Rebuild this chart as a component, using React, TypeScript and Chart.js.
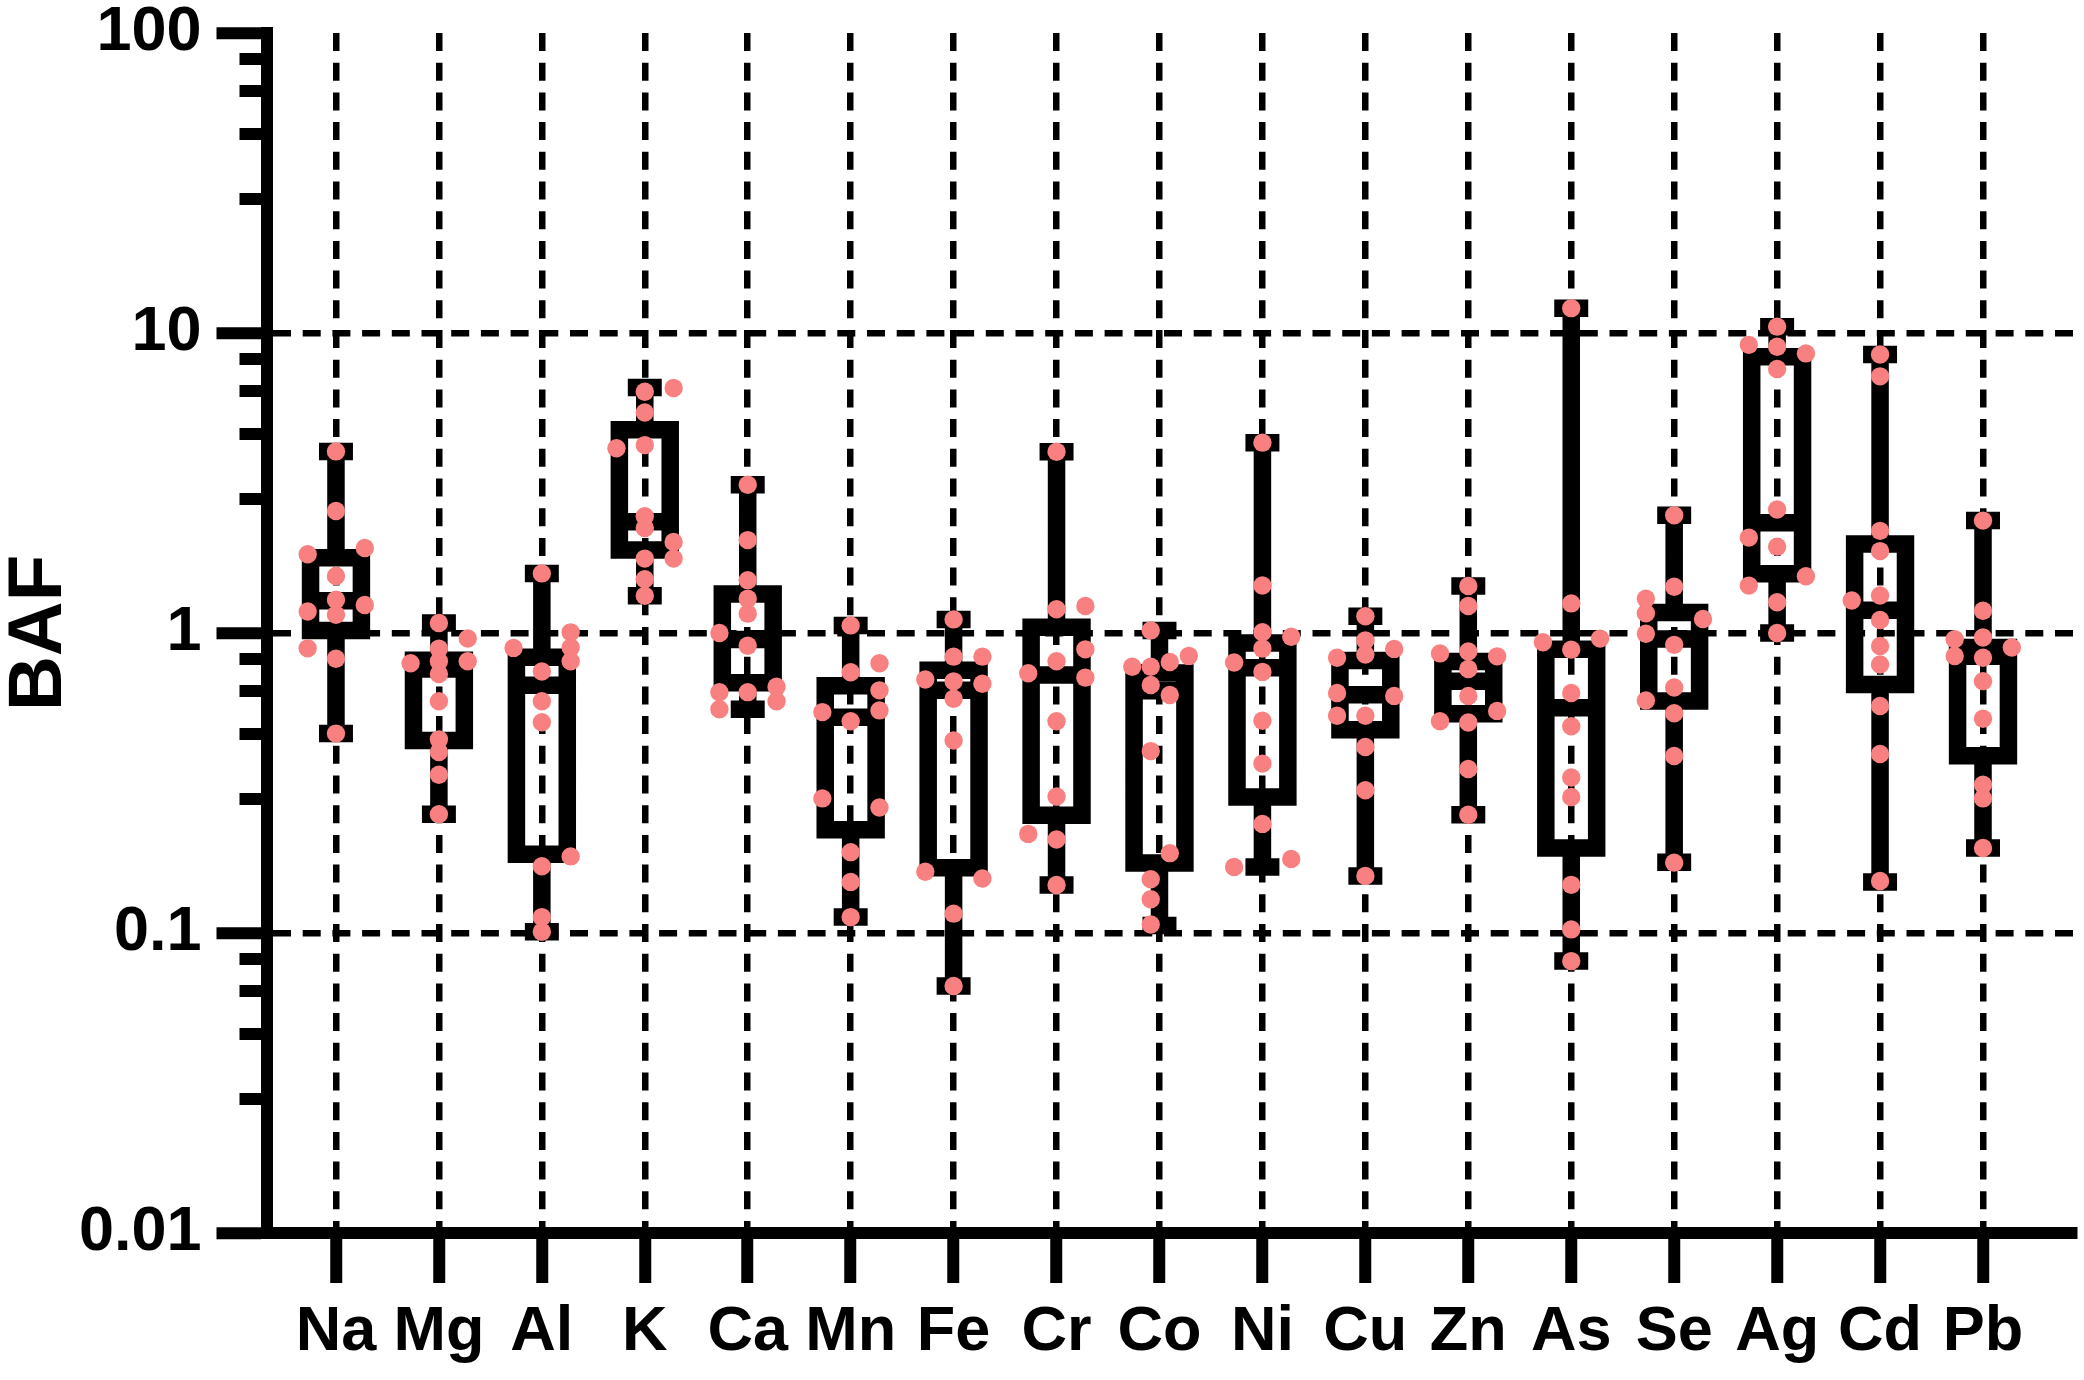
import React, { useEffect, useRef } from 'react';
import { Chart, registerables } from 'chart.js';

Chart.register(...registerables);

// ---------- data ----------
const categories = ['Na', 'Mg', 'Al', 'K', 'Ca', 'Mn', 'Fe', 'Cr', 'Co', 'Ni', 'Cu', 'Zn', 'As', 'Se', 'Ag', 'Cd', 'Pb'];

const minValues = [0.462, 0.249, 0.101, 1.33, 0.557, 0.113, 0.0666, 0.1445, 0.106, 0.166, 0.155, 0.248, 0.0806, 0.172, 1.0, 0.148, 0.192];
const q1Values = [1.02, 0.438, 0.183, 1.89, 0.683, 0.221, 0.165, 0.247, 0.171, 0.284, 0.476, 0.538, 0.192, 0.593, 1.576, 0.674, 0.39];
const medianValues = [1.28, 0.759, 0.669, 2.35, 0.951, 0.524, 0.645, 0.724, 0.642, 0.766, 0.622, 0.691, 0.563, 0.955, 2.33, 1.19, 0.836];
const q3Values = [1.78, 0.811, 0.83, 4.76, 1.35, 0.667, 0.752, 1.046, 0.736, 0.926, 0.81, 0.803, 0.882, 1.17, 8.34, 1.98, 0.895];
const maxValues = [4.03, 1.08, 1.58, 6.58, 3.12, 1.06, 1.11, 4.02, 1.02, 4.31, 1.137, 1.435, 12.1, 2.47, 10.5, 8.48, 2.37];

// individual samples per element
const dotValues = [
  [4.03, 2.55, 1.83, 1.92, 1.55, 1.29, 1.18, 1.15, 1.24, 0.889, 0.821, 0.462],
  [1.08, 0.959, 0.887, 0.793, 0.805, 0.805, 0.73, 0.592, 0.442, 0.401, 0.337, 0.249],
  [1.58, 1.005, 0.892, 0.894, 0.805, 0.744, 0.592, 0.504, 0.18, 0.167, 0.113, 0.101],
  [6.37, 6.56, 5.43, 4.13, 4.23, 2.45, 2.24, 2.01, 1.77, 1.77, 1.51, 1.33],
  [3.12, 2.04, 1.5, 1.3, 1.16, 1.0, 0.907, 0.635, 0.635, 0.662, 0.592, 0.557],
  [1.06, 0.793, 0.74, 0.644, 0.545, 0.552, 0.508, 0.281, 0.262, 0.186, 0.148, 0.113],
  [1.11, 0.834, 0.834, 0.7, 0.69, 0.677, 0.604, 0.438, 0.16, 0.152, 0.116, 0.0666],
  [4.02, 1.2, 1.23, 0.882, 0.805, 0.734, 0.71, 0.508, 0.285, 0.214, 0.205, 0.1445],
  [1.02, 0.772, 0.772, 0.8, 0.839, 0.671, 0.621, 0.404, 0.1846, 0.151, 0.1296, 0.1067],
  [4.31, 1.44, 1.006, 0.972, 0.887, 0.797, 0.742, 0.51, 0.367, 0.231, 0.166, 0.1766],
  [1.137, 0.945, 0.885, 0.827, 0.848, 0.631, 0.617, 0.53, 0.53, 0.417, 0.299, 0.155],
  [1.435, 1.23, 0.855, 0.868, 0.836, 0.759, 0.617, 0.55, 0.508, 0.503, 0.352, 0.2477],
  [12.1, 1.255, 0.931, 0.958, 0.88, 0.631, 0.489, 0.33, 0.284, 0.1447, 0.1028, 0.0806],
  [2.47, 1.426, 1.3, 1.163, 1.114, 0.994, 0.913, 0.658, 0.596, 0.54, 0.389, 0.1716],
  [10.5, 9.13, 9.0, 8.55, 7.59, 2.58, 2.08, 1.94, 1.545, 1.439, 1.266, 1.0],
  [8.48, 7.17, 2.19, 1.875, 1.284, 1.333, 1.105, 0.905, 0.785, 0.571, 0.395, 0.149],
  [2.37, 1.186, 0.953, 0.966, 0.895, 0.838, 0.827, 0.691, 0.518, 0.312, 0.281, 0.192],
];

// scatter column of each sample (in category units): L = left, C = centre, R = right
const L = -0.275;
const C = 0;
const R = 0.28;
const dotJitter = [
  [C, C, L, R, C, C, L, C, R, L, C, C],
  [C, R, C, L, C, R, C, C, C, C, C, C],
  [C, R, L, R, R, C, C, C, R, C, C, C],
  [C, R, C, L, C, C, C, R, R, C, C, C],
  [C, C, C, C, C, L, C, L, C, R, R, L],
  [C, R, C, R, L, R, C, L, R, C, C, C],
  [C, C, R, L, C, R, C, C, L, R, C, C],
  [C, C, R, R, C, L, R, C, C, L, C, C],
  [-0.085, -0.265, -0.085, 0.1, 0.285, -0.085, 0.1, -0.085, 0.1, -0.085, -0.085, -0.085],
  [C, C, C, R, C, L, C, C, C, C, L, R],
  [C, C, R, L, C, L, R, L, C, C, C, C],
  [C, C, L, C, R, C, C, R, L, C, C, C],
  [C, C, L, R, C, C, C, C, C, C, C, C],
  [C, C, L, L, R, L, C, C, L, C, C, C],
  [C, L, C, R, C, C, L, C, R, L, C, C],
  [C, C, C, C, L, C, C, C, C, C, C, C],
  [C, C, L, C, R, L, C, C, C, C, C, C],
];

const yMajorTicks = [0.01, 0.1, 1, 10, 100];
const yTickLabels = ['0.01', '0.1', '1', '10', '100'];
const yMinorTicks = [0.028, 0.046, 0.064, 0.082, 0.28, 0.46, 0.64, 0.82, 2.8, 4.6, 6.4, 8.2, 28, 46, 64, 82];

// ---------- styling ----------
const BOX_HALF = 0.247;
const CAP_HALF = 0.165;
const LINE_W = 17.5;
const DOT_RADIUS = 9.2;
const DOT_COLOR = 'rgb(248,128,128)';
const FONT = "'Liberation Sans', Arial, Helvetica, sans-serif";
const W = 2084;
const H = 1380;

export default function App() {
  const ref = useRef<HTMLCanvasElement | null>(null);

  useEffect(() => {
    const canvas = ref.current;
    if (!canvas) return;

    const boxPts: any[] = [];
    const gap = () => boxPts.push({ x: 0, y: null });
    categories.forEach((_, i) => {
      const lo = minValues[i];
      const q1 = q1Values[i];
      const md = medianValues[i];
      const q3 = q3Values[i];
      const hi = maxValues[i];
      boxPts.push(
        { x: i, y: q1 },
        { x: i + BOX_HALF, y: q1 },
        { x: i + BOX_HALF, y: q3 },
        { x: i - BOX_HALF, y: q3 },
        { x: i - BOX_HALF, y: q1 },
        { x: i, y: q1 },
      );
      gap();
      boxPts.push({ x: i - BOX_HALF, y: md }, { x: i + BOX_HALF, y: md });
      gap();
      boxPts.push({ x: i, y: q3 }, { x: i, y: hi });
      gap();
      boxPts.push({ x: i - CAP_HALF, y: hi }, { x: i + CAP_HALF, y: hi });
      gap();
      boxPts.push({ x: i, y: q1 }, { x: i, y: lo });
      gap();
      boxPts.push({ x: i - CAP_HALF, y: lo }, { x: i + CAP_HALF, y: lo });
      gap();
    });

    const dots: any[] = [];
    dotValues.forEach((vals, i) => {
      vals.forEach((v, j) => dots.push({ x: i + dotJitter[i][j], y: v }));
    });

    const tickFont = { family: FONT, size: 63, weight: 'bold' as const, lineHeight: 1.2 };

    const chart = new Chart(canvas, {
      type: 'line',
      data: {
        datasets: [
          {
            type: 'scatter',
            data: dots,
            pointRadius: DOT_RADIUS,
            pointHoverRadius: DOT_RADIUS,
            pointBackgroundColor: DOT_COLOR,
            pointBorderWidth: 0,
            borderWidth: 0,
            showLine: false,
            order: 0,
            yAxisID: 'y',
          } as any,
          {
            type: 'line',
            data: boxPts,
            borderColor: '#000',
            borderWidth: LINE_W,
            borderJoinStyle: 'miter',
            borderCapStyle: 'butt',
            pointRadius: 0,
            pointHoverRadius: 0,
            fill: false,
            tension: 0,
            spanGaps: false,
            order: 1,
            yAxisID: 'y',
          } as any,
        ],
      },
      options: {
        animation: false,
        responsive: false,
        maintainAspectRatio: false,
        devicePixelRatio: 1,
        events: [],
        layout: { padding: { top: 33, right: 10, left: 0, bottom: 0 } },
        plugins: {
          legend: { display: false },
          tooltip: { enabled: false },
        },
        scales: {
          x: {
            type: 'linear',
            position: 'bottom',
            min: -0.67,
            max: 16.884,
            afterBuildTicks: (s: any) => {
              s.ticks = categories.map((_, i) => ({ value: i }));
            },
            afterFit: (s: any) => {
              s.height = H - 1233;
              s.paddingLeft = 0;
              s.paddingRight = 0;
            },
            ticks: {
              autoSkip: false,
              maxRotation: 0,
              minRotation: 0,
              padding: 12,
              color: '#000',
              font: tickFont,
              callback: (_v: any, i: number) => categories[i],
            },
            grid: {
              color: '#000',
              lineWidth: 6.5,
              drawTicks: true,
              tickLength: 50,
              tickWidth: 12,
              tickColor: '#000',
            },
            border: { display: true, color: '#000', width: 12, dash: [18, 11.7] },
          },
          y: {
            type: 'logarithmic',
            position: 'left',
            weight: 1,
            min: 0.01,
            max: 100,
            afterBuildTicks: (s: any) => {
              s.ticks = yMajorTicks.map((v) => ({ value: v, major: true }));
            },
            afterFit: (s: any) => {
              s.width = 267;
              s.paddingTop = 0;
              s.paddingBottom = 0;
            },
            ticks: {
              padding: 15,
              color: '#000',
              font: tickFont,
              autoSkip: false,
              callback: (_v: any, i: number) => yTickLabels[i],
            },
            grid: {
              color: (c: any) =>
                c.tick && (c.tick.value === 0.01 || c.tick.value === 100) ? 'rgba(0,0,0,0)' : '#000',
              lineWidth: 6.5,
              drawTicks: true,
              tickLength: 50.5,
              tickWidth: 12,
              tickColor: '#000',
            },
            border: { display: true, color: '#000', width: 12, dash: [18, 11.7] },
            title: {
              display: true,
              text: 'BAF',
              color: '#000',
              font: { family: FONT, size: 76, weight: 'bold', lineHeight: 1 },
              padding: { top: 2, bottom: 0 },
            },
          },
          y2: {
            type: 'logarithmic',
            position: 'left',
            weight: 0,
            min: 0.01,
            max: 100,
            afterBuildTicks: (s: any) => {
              s.ticks = yMinorTicks.map((v) => ({ value: v }));
            },
            afterFit: (s: any) => {
              s.width = 0;
              s.paddingTop = 0;
              s.paddingBottom = 0;
            },
            ticks: { display: false },
            grid: {
              drawOnChartArea: false,
              drawTicks: true,
              tickLength: 27.5,
              tickWidth: 12,
              tickColor: '#000',
              color: '#000',
              lineWidth: 12,
            },
            border: { display: false },
          },
        },
      } as any,
    });

    return () => {
      chart.destroy();
    };
  }, []);

  return (
    <div style={{ position: 'absolute', left: 0, top: 0, width: W, height: H, background: '#fff' }}>
      <canvas ref={ref} width={W} height={H} style={{ display: 'block', width: W, height: H }} />
    </div>
  );
}
